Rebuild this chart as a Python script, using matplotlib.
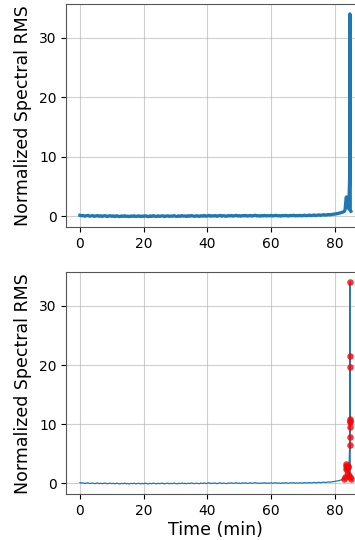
import numpy as np
import matplotlib
matplotlib.use('Agg')
import matplotlib.pyplot as plt


# baseline, sampled every 0.5 min from 0 to 82.5 min
baseline_rms = [
    0.12, 0.05, 0.08, -0.02, 0.04, 0.10, -0.03, 0.02, 0.06, -0.05,
    0.01, 0.07, -0.04, 0.03, -0.06, 0.02, 0.05, -0.08, 0.00, 0.04,
    -0.05, 0.02, -0.09, 0.03, -0.04, -0.10, 0.01, -0.06, 0.04, -0.07,
    -0.02, -0.11, 0.00, -0.05, 0.03, -0.08, -0.03, 0.02, -0.09, -0.01,
    -0.06, 0.03, -0.04, -0.10, 0.01, -0.07, 0.05, -0.03, -0.08, 0.02,
    -0.05, -0.01, 0.04, -0.09, -0.02, 0.03, -0.06, 0.00, -0.04, 0.05,
    -0.03, -0.08, 0.02, -0.05, 0.06, -0.02, 0.01, -0.07, 0.04, -0.03,
    0.07, -0.01, -0.05, 0.03, 0.00, -0.06, 0.05, -0.02, 0.08, -0.04,
    0.02, 0.10, -0.03, 0.04, 0.00, 0.07, -0.05, 0.03, 0.09, -0.02,
    0.05, 0.01, -0.04, 0.06, 0.02, 0.08, -0.01, 0.04, 0.11, 0.00,
    0.05, -0.02, 0.07, 0.03, 0.09, -0.01, 0.04, 0.08, 0.00, 0.06,
    0.12, 0.02, 0.05, -0.01, 0.07, 0.03, 0.10, 0.01, 0.06, 0.04,
    0.09, 0.02, 0.07, 0.11, 0.03, 0.06, 0.00, 0.08, 0.04, 0.10,
    0.05, 0.02, 0.09, 0.06, 0.12, 0.03, 0.07, 0.05, 0.10, 0.04,
    0.08, 0.12, 0.06, 0.10, 0.14, 0.07, 0.11, 0.16, 0.09, 0.13,
    0.18, 0.12, 0.16, 0.21, 0.15, 0.19, 0.24, 0.20, 0.26, 0.30,
    0.34, 0.38, 0.44, 0.50, 0.58, 0.66,
]
baseline_time = list(np.arange(len(baseline_rms)) * 0.5)

# last minutes before failure
end_time = [83.0, 83.2, 83.4, 83.5, 83.6, 83.8, 84.0, 84.1, 84.2, 84.35,
            84.62, 84.64, 84.66, 84.68, 84.70, 84.72, 84.74, 84.76, 84.78, 84.80,
            85.0]
end_rms = [0.80, 1.1, 2.4, 2.9, 3.2, 2.6, 3.0, 1.6, 2.8, 1.2,
           6.5, 7.9, 10.8, 34.0, 19.6, 10.3, 21.5, 9.5, 10.5, 1.0,
           0.8]

anomaly_threshold = 0.75

time = np.array(baseline_time + end_time)
rms = np.array(baseline_rms + end_rms)
is_anomaly = rms > anomaly_threshold

fig = plt.figure(figsize=(3.55, 5.4), dpi=100)
ax1 = fig.add_axes([0.187, 0.580, 0.8395, 0.413])
ax2 = fig.add_axes([0.187, 0.085, 0.8395, 0.411])

ax1.plot(time, rms, color='#1f77b4', linewidth=2.4)

ax2.plot(time, rms, color='#1f77b4', linewidth=0.9)
ax2.scatter(time[is_anomaly], rms[is_anomaly], color='red', s=22, alpha=0.8,
            zorder=3, linewidths=0)

fontsize_label = 12.5
for ax in [ax1, ax2]:
    ax.grid(True, color='#b0b0b0', alpha=0.6, linewidth=0.8)
    ax.set_axisbelow(True)
    ax.set_xticks([0, 20, 40, 60, 80])
    ax.set_yticks([0, 10, 20, 30])
    ax.tick_params(axis='both', which='major', labelsize=10)
    ax.set_ylabel('Normalized Spectral RMS', fontsize=fontsize_label, labelpad=5)
    for side in ['top', 'right', 'bottom', 'left']:
        ax.spines[side].set_color('#555555')

ax2.set_xlabel('Time (min)', fontsize=fontsize_label, labelpad=2)

fig.savefig('out.png', dpi=100)
plt.close('all')
